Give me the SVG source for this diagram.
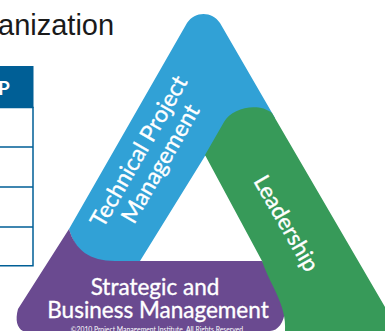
<svg xmlns="http://www.w3.org/2000/svg" width="385" height="331" viewBox="0 0 385 331">
<style>
.w{fill:#fff;stroke:#fff;stroke-width:.35;font-family:Lato,"Open Sans",sans-serif;font-size:23px}
.t{fill:#1a1a1a;font-family:"Liberation Sans",Arial,sans-serif}
.b{fill:none;stroke:#005f96;stroke-width:1.5}
</style>
<rect width="385" height="331" fill="#fff"/>
<text class="t" x="-2" y="35" font-size="29">anization</text>
<g id="table">
<rect x="0" y="66" width="33.500" height="42" fill="#005f96"/>
<text x="-2" y="95" font-family="Lato,sans-serif" font-weight="700" font-size="19" fill="#fff">P</text>
<path class="b" d="M0 107.500H33V265.800H0M0 147H33M0 187H33M0 227H33"/>
</g>
<g id="technical">
<path d="M187 23C195 11 212 11 220 23L275 118L205 156L140 261H105C85 260 74 247 69 229Z" fill="#31a1d6"/>
<text class="w" transform="translate(103 229) rotate(-60)">Technical Project</text>
<text class="w" transform="translate(134 225) rotate(-60)">Management</text>
</g>
<g id="strategic">
<path d="M69 229C75 250 90 261 115 261H262C275 280 286 295 285 311C284 322 278 331 270 331H23C17 328 15 320 18 309Z" fill="#6a4a90"/>
<text class="w" x="155" y="295" text-anchor="middle" style="font-size:22.500px">Strategic and</text>
<text class="w" x="158" y="318" text-anchor="middle" style="font-size:22.500px">Business Management</text>
<text x="157" y="332" fill="#fff" font-family="Lato,sans-serif" font-size="6.800" text-anchor="middle">©2010 Project Management Institute. All Rights Reserved</text>
</g>
<g id="leadership">
<path d="M205 155L224 122C232 108 258 102 272 113L385 307V331H285C287 305 270 285 262 261Z" fill="#379a59"/>
<text class="w" transform="translate(253 181) rotate(60)" style="font-size:22.500px">Leadership</text>
</g>
</svg>
